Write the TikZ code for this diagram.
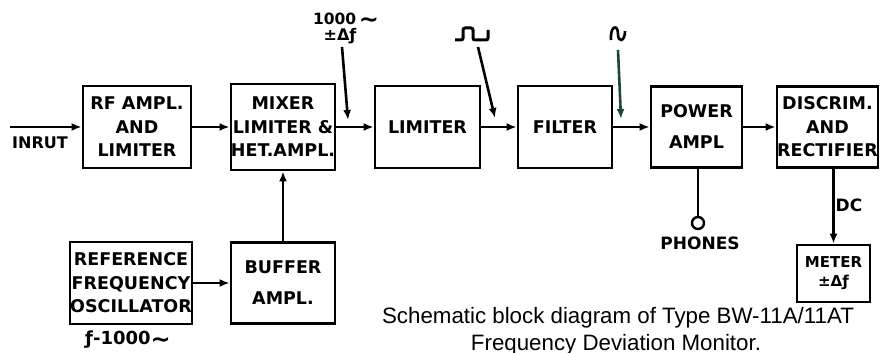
\documentclass[tikz,border=0pt]{standalone}
\usepackage{fontspec}
\setmainfont{DejaVu Sans}
\newfontfamily\capfont{Liberation Sans}
\usetikzlibrary{arrows.meta}
\definecolor{sinegreen}{RGB}{30,70,50}
\newcommand{\bigtilde}{\raisebox{-3pt}{\fontsize{24}{16}\selectfont ∼}}
\begin{document}
\begin{tikzpicture}[x=1pt,y=-1pt,
  blk/.style={draw,line width=2.8pt,inner sep=0pt,align=center,font=\bfseries\fontsize{17.5}{23.5}\selectfont},
  blktwo/.style={blk,font=\bfseries\fontsize{17.5}{31}\selectfont},
  conn/.style={line width=2.6pt,-{Latex[length=10pt,width=8pt]}},
  wire/.style={line width=2.6pt},
  lbl/.style={font=\bfseries\fontsize{16}{18}\selectfont,inner sep=0pt}]
\useasboundingbox (0,0) rectangle (880,353);
% main row
\node[blk,minimum width=108pt,minimum height=82pt] (rf) at (137,127) {RF AMPL.\\AND\\LIMITER};
\node[blk,minimum width=104pt,minimum height=86pt] (mix) at (283,127) {MIXER\\LIMITER \&\\HET.AMPL.};
\node[blk,minimum width=105pt,minimum height=82pt] (lim) at (427.5,127) {LIMITER};
\node[blk,minimum width=94pt,minimum height=82pt] (fil) at (565,127) {FILTER};
\node[blktwo,minimum width=91pt,minimum height=81pt] (pow) at (696.5,127) {POWER\\AMPL};
\node[blk,minimum width=101pt,minimum height=81pt] (dis) at (827.5,127) {DISCRIM.\\AND\\RECTIFIER};
% lower row
\node[blk,minimum width=122pt,minimum height=82pt] (ref) at (131,283) {REFERENCE\\FREQUENCY\\OSCILLATOR};
\node[blktwo,minimum width=104pt,minimum height=81pt] (buf) at (283,283) {BUFFER\\AMPL.};
\node[blk,minimum width=73pt,minimum height=57pt,font=\bfseries\fontsize{15}{19}\selectfont] (met) at (833.5,273.5) {METER\\±Δƒ};
% input
\coordinate (in) at (10,127);
\node[lbl] (inlbl) at (40,143) {INRUT};
\draw[conn] (in) -- (rf.west);
\draw[conn] (rf.east) -- (mix.west);
\draw[conn] (mix.east) -- (lim.west);
\draw[conn] (lim.east) -- (fil.west);
\draw[conn] (fil.east) -- (pow.west);
\draw[conn] (pow.east) -- (dis.west);
\draw[conn] (ref.east) -- (buf.west);
\draw[conn] (buf.north) -- (mix.south);
% phones
\node[circle,draw,line width=2.4pt,minimum size=12pt,inner sep=0pt] (ph) at (698,223) {};
\draw[wire] (ph.north |- pow.south) -- (ph.north);
\node[lbl,font=\bfseries\fontsize{17}{18}\selectfont] (phl) at (700,243) {PHONES};
% DC
\draw[conn] (met.north |- dis.south) -- (met.north);
\node[lbl,font=\bfseries\fontsize{17}{18}\selectfont] (dcl) at (849,205) {DC};
% signal labels
\node[lbl,font=\bfseries\fontsize{15.5}{16}\selectfont] (l1000) at (346,20) {1000\,\bigtilde};
\node[lbl,font=\bfseries\fontsize{16}{16}\selectfont] (ldf) at (340,36) {±Δƒ};
\coordinate (a1s) at (342,47);
\coordinate (a1e) at (348,120);
\draw[conn] (a1s) -- (a1e);
\draw[line width=3pt,rounded corners=2pt] (455,40) -- (463,40) -- (463,28) -- (473,28) -- (473,40) -- (488,40) -- (488,30);
\coordinate (a2s) at (478,47);
\coordinate (a2e) at (495,118);
\draw[conn] (a2s) -- (a2e);
\draw[line width=2.6pt] (611,40) .. controls (610,25) and (618,24) .. (618,34) .. controls (618,43) and (625,42) .. (625,31);
\coordinate (a3s) at (618,50);
\coordinate (a3e) at (621,119);
\draw[conn,sinegreen] (a3s) -- (a3e);
% reference freq
\node[lbl,font=\bfseries\fontsize{18}{18}\selectfont] (fref) at (128,340) {ƒ-1000\bigtilde};
% caption
\node[font=\capfont\fontsize{22.3}{27}\selectfont,anchor=base,inner sep=0pt] (cap1) at (618,323) {Schematic block diagram of Type BW-11A/11AT};
\node[font=\capfont\fontsize{22.3}{27}\selectfont,anchor=base,inner sep=0pt] (cap2) at (616,350) {Frequency Deviation Monitor.};
\end{tikzpicture}
\end{document}
